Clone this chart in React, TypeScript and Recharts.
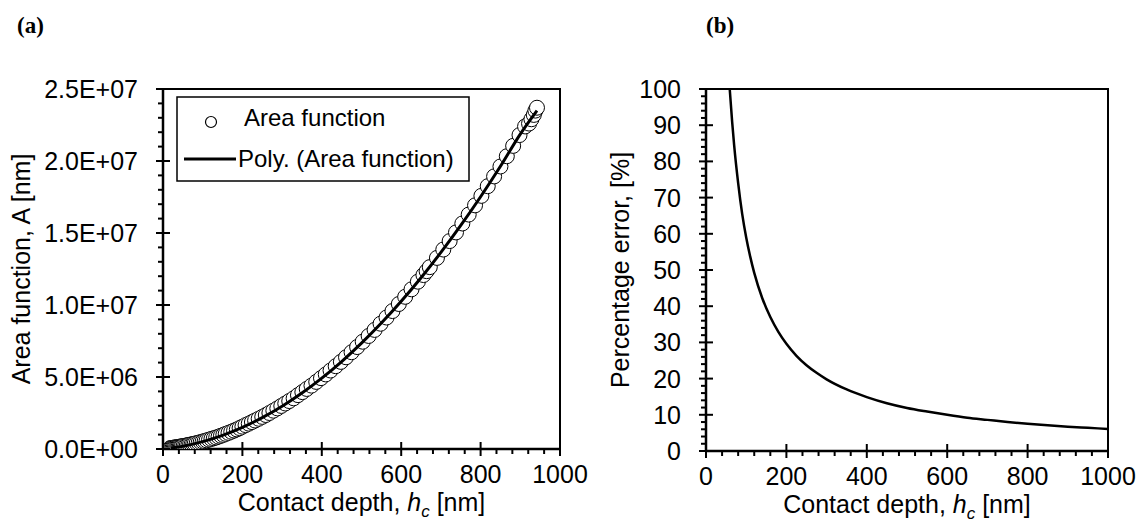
import React from 'react';
import { ComposedChart, Scatter, Line, XAxis, YAxis, Legend, ReferenceArea } from 'recharts';

const FONT = '"Liberation Sans", Arial, Helvetica, sans-serif';
const SERIF = '"Liberation Serif", "Times New Roman", serif';

// ---------- (a) Area function data ----------
const areaDepth = [
  18, 21, 24, 27, 30, 33, 36, 39, 42, 45, 48, 52, 56, 60, 64, 68, 72, 76, 80, 85, 90, 95, 100, 105, 110,
  116, 122, 128, 134, 140, 146, 152, 158, 165, 172, 179, 186, 193, 200, 208, 216, 224, 232, 241, 250,
  259, 268, 278, 288, 298, 308, 318, 329, 340, 351, 362, 374, 386, 398, 410, 422, 435, 448, 461, 475,
  489, 503, 518, 533, 548, 563, 578, 594, 610, 626, 642, 656, 664, 672, 690, 706, 722, 738, 754, 770,
  786, 802, 818, 834, 850, 866, 882, 898, 912, 922, 928, 934, 938, 942,
];
const areaValue = [
  0.06e6, 0.07e6, 0.08e6, 0.09e6, 0.11e6, 0.11e6, 0.13e6, 0.15e6, 0.16e6, 0.17e6, 0.19e6, 0.21e6, 0.23e6,
  0.25e6, 0.28e6, 0.3e6, 0.32e6, 0.35e6, 0.37e6, 0.41e6, 0.44e6, 0.48e6, 0.52e6, 0.55e6, 0.6e6,
  0.65e6, 0.7e6, 0.75e6, 0.8e6, 0.86e6, 0.92e6, 0.98e6, 1.05e6, 1.12e6, 1.2e6, 1.28e6, 1.36e6, 1.45e6,
  1.55e6, 1.66e6, 1.76e6, 1.87e6, 1.98e6, 2.1e6, 2.23e6, 2.36e6, 2.5e6, 2.66e6, 2.82e6, 2.99e6, 3.16e6,
  3.33e6, 3.52e6, 3.74e6, 3.95e6, 4.17e6, 4.4e6, 4.66e6, 4.92e6, 5.18e6, 5.45e6, 5.75e6, 6.05e6, 6.37e6,
  6.72e6, 7.08e6, 7.45e6, 7.85e6, 8.27e6, 8.7e6, 9.13e6, 9.58e6, 10.07e6, 10.57e6, 11.09e6, 11.62e6,
  12.08e6, 12.35e6, 12.63e6, 13.27e6, 13.85e6, 14.44e6, 15.04e6, 15.66e6, 16.28e6, 16.92e6, 17.58e6,
  18.25e6, 18.93e6, 19.62e6, 20.33e6, 21.05e6, 21.8e6, 22.4e6, 22.6e6, 22.9e6, 23.2e6, 23.5e6, 23.7e6,
];
const polyDepth = [20, 50, 100, 150, 200, 250, 300, 350, 400, 450, 500, 550, 600, 650, 700, 750, 800, 850, 900, 942];
const polyValue = [
  0.064e6, 0.195e6, 0.51e6, 0.945e6, 1.5e6, 2.175e6, 2.97e6, 3.885e6, 4.92e6, 6.075e6, 7.35e6, 8.745e6,
  10.26e6, 11.895e6, 13.65e6, 15.525e6, 17.52e6, 19.635e6, 21.87e6, 23.5e6,
];

// ---------- (b) Percentage error data ----------
const errDepth = [59, 65, 70, 80, 90, 100, 110, 120, 140, 160, 180, 200, 225, 250, 275, 300, 350, 400, 450, 500, 550, 600, 650, 700, 750, 800, 850, 900, 950, 1000];
const errValue = [100, 91, 84.5, 74, 65.5, 59, 53.7, 49.2, 42.2, 37, 32.9, 29.6, 26.3, 23.7, 21.6, 19.8, 17, 14.9, 13.2, 11.9, 10.9, 10, 9.2, 8.6, 8, 7.5, 7.1, 6.7, 6.4, 6.1];

// ---------- axis ticks ----------
const depthMajorTicks = [0, 200, 400, 600, 800, 1000];
const depthTickLabels = ['0', '200', '400', '600', '800', '1000'];
const depthMinorStep = 40;
const areaMajorTicks = [0, 5e6, 1e7, 1.5e7, 2e7, 2.5e7];
const areaTickLabels = ['0.0E+00', '5.0E+06', '1.0E+07', '1.5E+07', '2.0E+07', '2.5E+07'];
const areaMinorStep = 1e6;
const errMajorTicks = [0, 10, 20, 30, 40, 50, 60, 70, 80, 90, 100];
const errTickLabels = ['0', '10', '20', '30', '40', '50', '60', '70', '80', '90', '100'];
const errMinorStep = 2;

const legendLabels = ['Area function', 'Poly. (Area function)'];

const stepsTo = (max: number, step: number) =>
  Array.from({ length: Math.round(max / step) + 1 }, (_, i) => i * step);

const areaPoints = areaDepth.map((x, i) => ({ x, y: areaValue[i] }));
const polyPoints = polyDepth.map((x, i) => ({ x, y: polyValue[i] }));
const errPoints = errDepth.map((x, i) => ({ x, y: errValue[i] }));

const makeXTick = (majors: number[], labels: string[]) => (props: any) => {
  const { x, y, payload } = props;
  const idx = majors.indexOf(payload.value);
  const major = idx >= 0;
  return (
    <g>
      <line x1={x} x2={x} y1={y - (major ? 7 : 0)} y2={y + (major ? 7 : 5)} stroke="#000" strokeWidth={2} />
      {major && (
        <text x={x} y={y + 34} textAnchor="middle" fontSize={25} fontFamily={FONT} fill="#000">
          {labels[idx]}
        </text>
      )}
    </g>
  );
};

const makeYTick = (majors: number[], labels: string[]) => (props: any) => {
  const { x, y, payload } = props;
  const idx = majors.indexOf(payload.value);
  const major = idx >= 0;
  return (
    <g>
      <line x1={x - (major ? 7 : 5)} x2={x + (major ? 7 : 0)} y1={y} y2={y} stroke="#000" strokeWidth={2} />
      {major && (
        <text x={x - 25} y={y + 9} textAnchor="end" fontSize={25} fontFamily={FONT} fill="#000">
          {labels[idx]}
        </text>
      )}
    </g>
  );
};

const XTitle = (props: any) => {
  const vb = props.viewBox || { x: 0, y: 0, width: 0, height: 0 };
  const cx = vb.x + vb.width / 2;
  const by = vb.y + 62;
  return (
    <text x={cx} y={by} textAnchor="middle" fontSize={25} fontFamily={FONT} fill="#000">
      <tspan>Contact depth, </tspan>
      <tspan fontStyle="italic">h</tspan>
      <tspan fontStyle="italic" fontSize={17} dy={6}>c</tspan>
      <tspan dy={-6}> [nm]</tspan>
    </text>
  );
};

const makeYTitle = (title: string, offset: number, panel: string, panelX: number) => (props: any) => {
  const vb = props.viewBox || { x: 0, y: 0, width: 0, height: 0 };
  const axisX = vb.x + vb.width;
  const tx = axisX - offset;
  const ty = vb.y + vb.height / 2;
  return (
    <g>
      <text
        x={tx}
        y={ty}
        transform={`rotate(-90, ${tx}, ${ty})`}
        textAnchor="middle"
        fontSize={25}
        fontFamily={FONT}
        fill="#000"
      >
        {title}
      </text>
      <text x={panelX} y={33} fontSize={23} fontWeight="bold" fontFamily={SERIF} fill="#000">
        {panel}
      </text>
    </g>
  );
};

const AreaLegend = () => (
  <svg width={296} height={88} style={{ display: 'block' }}>
    <rect x={1} y={1} width={292} height={84} fill="#fff" stroke="#000" strokeWidth={1.5} />
    <circle cx={35} cy={26} r={5.5} fill="#fff" stroke="#000" strokeWidth={1.2} />
    <text x={68} y={30} fontSize={24} fontFamily={FONT} fill="#000">{legendLabels[0]}</text>
    <line x1={8} x2={60} y1={63} y2={63} stroke="#000" strokeWidth={3} />
    <text x={62} y={71} fontSize={24} fontFamily={FONT} fill="#000">{legendLabels[1]}</text>
  </svg>
);

const circleShape = (props: any) => (
  <circle cx={props.cx} cy={props.cy} r={7.5} fill="#fff" stroke="#000" strokeWidth={1} />
);
const noShape = () => <g />;

export default function App() {
  return (
    <div style={{ position: 'absolute', left: 0, top: 0, width: 1144, height: 525, background: '#fff', overflow: 'hidden' }}>
      <div style={{ position: 'absolute', left: 0, top: 0 }}>
        <ComposedChart width={600} height={525} margin={{ top: 89, right: 40, bottom: 75, left: 162 }}>
          <XAxis
            dataKey="x"
            type="number"
            domain={[0, 1000]}
            allowDataOverflow
            ticks={stepsTo(1000, depthMinorStep)}
            interval={0}
            tick={makeXTick(depthMajorTicks, depthTickLabels)}
            tickLine={false}
            tickSize={0}
            tickMargin={0}
            height={1}
            axisLine={{ stroke: '#000', strokeWidth: 2.5 }}
            label={XTitle}
          />
          <YAxis
            dataKey="y"
            type="number"
            domain={[0, 2.5e7]}
            allowDataOverflow
            ticks={stepsTo(2.5e7, areaMinorStep)}
            interval={0}
            tick={makeYTick(areaMajorTicks, areaTickLabels)}
            tickLine={false}
            tickSize={0}
            tickMargin={0}
            width={1}
            axisLine={{ stroke: '#000', strokeWidth: 2.5 }}
            label={makeYTitle('Area function, A [nm]', 133, '(a)', 17)}
          />
          <ReferenceArea x1={0} x2={1000} y1={0} y2={2.5e7} fill="none" stroke="#000" strokeWidth={2} ifOverflow="visible" />
          <Scatter data={areaPoints} dataKey="y" shape={circleShape} isAnimationActive={false} />
          <Scatter
            data={polyPoints}
            dataKey="y"
            shape={noShape}
            line={{ stroke: '#000', strokeWidth: 3, fill: 'none' }}
            lineType="joint"
            lineJointType="monotoneX"
            isAnimationActive={false}
          />
          <Legend
            layout="vertical"
            align="center"
            verticalAlign="middle"
            wrapperStyle={{ left: 176, top: 96, width: 296, height: 88 }}
            content={AreaLegend}
          />
        </ComposedChart>
      </div>
      <div style={{ position: 'absolute', left: 590, top: 0 }}>
        <ComposedChart width={554} height={525} margin={{ top: 89, right: 36, bottom: 73, left: 115 }}>
          <XAxis
            dataKey="x"
            type="number"
            domain={[0, 1000]}
            allowDataOverflow
            ticks={stepsTo(1000, depthMinorStep)}
            interval={0}
            tick={makeXTick(depthMajorTicks, depthTickLabels)}
            tickLine={false}
            tickSize={0}
            tickMargin={0}
            height={1}
            axisLine={{ stroke: '#000', strokeWidth: 2.5 }}
            label={XTitle}
          />
          <YAxis
            dataKey="y"
            type="number"
            domain={[0, 100]}
            allowDataOverflow
            ticks={stepsTo(100, errMinorStep)}
            interval={0}
            tick={makeYTick(errMajorTicks, errTickLabels)}
            tickLine={false}
            tickSize={0}
            tickMargin={0}
            width={1}
            axisLine={{ stroke: '#000', strokeWidth: 2.5 }}
            label={makeYTitle('Percentage error, [%]', 77, '(b)', 116)}
          />
          <ReferenceArea x1={0} x2={1000} y1={0} y2={100} fill="none" stroke="#000" strokeWidth={2} ifOverflow="visible" />
          <Line data={errPoints} dataKey="y" type="monotone" stroke="#000" strokeWidth={2.5} dot={false} isAnimationActive={false} />
        </ComposedChart>
      </div>
    </div>
  );
}
